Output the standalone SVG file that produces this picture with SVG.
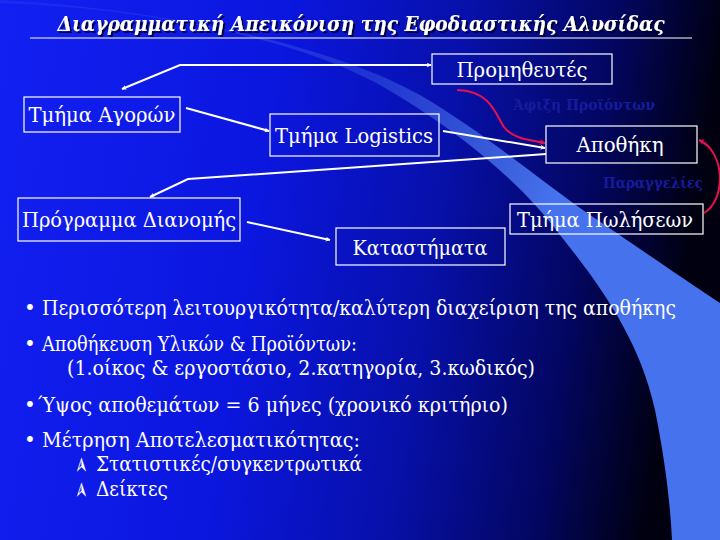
<svg xmlns="http://www.w3.org/2000/svg" width="720" height="540" viewBox="0 0 720 540">
<defs>
<linearGradient id="bg" x1="0" y1="0" x2="1" y2="0.12">
<stop offset="0" stop-color="#1220f2"/>
<stop offset="0.4" stop-color="#0b16de"/>
<stop offset="0.65" stop-color="#0710a8"/>
<stop offset="0.85" stop-color="#030660"/>
<stop offset="1" stop-color="#000010"/>
</linearGradient>
<linearGradient id="band" gradientUnits="userSpaceOnUse" x1="0" y1="0" x2="560" y2="260">
<stop offset="0" stop-color="#5a7cf5" stop-opacity="0.12"/>
<stop offset="0.6" stop-color="#4a72f0" stop-opacity="0.35"/>
<stop offset="0.95" stop-color="#4672ee" stop-opacity="1"/>
</linearGradient>
<marker id="aw" viewBox="0 0 10 10" refX="9" refY="5" markerWidth="5" markerHeight="5" orient="auto-start-reverse" markerUnits="userSpaceOnUse">
<path d="M0,0 L10,5 L0,10 L3,5 Z" fill="#ffffff"/>
</marker>
<marker id="ar" viewBox="0 0 10 10" refX="9" refY="5" markerWidth="6" markerHeight="6" orient="auto" markerUnits="userSpaceOnUse">
<path d="M0,0 L10,5 L0,10 L3,5 Z" fill="#e8104e"/>
</marker>
<filter id="sh" filterUnits="userSpaceOnUse" x="0" y="0" width="720" height="60">
<feDropShadow dx="2" dy="2" stdDeviation="0.6" flood-color="#000030" flood-opacity="0.9"/>
</filter>
</defs>
<style>
text{font-family:"DejaVu Serif","Liberation Serif",serif}
.box{fill:none;stroke:#ffffff;stroke-width:1.2}
.nt{font-size:21px;fill:#ffffff;text-anchor:middle}
.bt{font-size:20px;fill:#ffffff}
.hid{font-size:15px;font-weight:bold;fill:#161c9c}
.cw{fill:none;stroke:#ffffff;stroke-width:2}
.cr{fill:none;stroke:#e8104e;stroke-width:2}
text.ah{font-family:"DejaVu Sans",sans-serif;font-size:21px;fill:#ffffff}
</style>
<rect x="0" y="0" width="720" height="540" fill="url(#bg)"/>
<path d="M0,3 C150,8 300,40 380,85 C450,125 520,180 560,235 C600,285 640,340 655,410 C665,460 670,500 672,540 L720,540 L720,303 C670,270 620,235 590,215 C540,180 480,130 420,95 C330,45 170,10 0,0 Z" fill="url(#band)"/>
<g id="title" filter="url(#sh)">
<text x="361" y="31" font-size="20" font-style="italic" font-weight="bold" fill="#ffffff" text-anchor="middle" textLength="607" lengthAdjust="spacingAndGlyphs">Διαγραμματική Απεικόνιση της Εφοδιαστικής Αλυσίδας</text>
</g>
<line x1="30" y1="38" x2="692" y2="38" stroke="#ffffff" stroke-width="1"/>
<g id="connectors">
<polyline class="cw" points="122,89 180,65 431,65" marker-start="url(#aw)" marker-end="url(#aw)"/>
<line class="cw" x1="186" y1="108" x2="269" y2="131" marker-end="url(#aw)"/>
<line class="cw" x1="443" y1="131" x2="545" y2="148" marker-end="url(#aw)"/>
<polyline class="cw" points="546,154 188,179 150,197" marker-end="url(#aw)"/>
<line class="cw" x1="247" y1="222" x2="330" y2="240" marker-end="url(#aw)"/>
<path class="cr" d="M457,90 C492,91 496,116 504,127 C512,138 528,140 545,143" marker-end="url(#ar)"/>
<path class="cr" d="M704,213 C726,200 726,152 699,140" marker-end="url(#ar)"/>
<text class="hid" x="513" y="110" textLength="142" lengthAdjust="spacingAndGlyphs">Άφιξη Προϊόντων</text>
<text class="hid" x="603" y="188" textLength="100" lengthAdjust="spacingAndGlyphs">Παραγγελίες</text>
</g>
<g id="n-promitheutes">
<rect class="box" x="432" y="54" width="180" height="30"/>
<text class="nt" x="522" y="77" textLength="131" lengthAdjust="spacingAndGlyphs">Προμηθευτές</text>
</g>
<g id="n-agoron">
<rect class="box" x="24" y="97" width="156" height="35"/>
<text class="nt" x="102" y="122" textLength="147" lengthAdjust="spacingAndGlyphs">Τμήμα Αγορών</text>
</g>
<g id="n-logistics">
<rect class="box" x="270" y="114" width="169" height="42"/>
<text class="nt" x="354" y="143" textLength="158" lengthAdjust="spacingAndGlyphs">Τμήμα Logistics</text>
</g>
<g id="n-apothiki">
<rect class="box" x="546" y="126" width="151" height="37"/>
<text class="nt" x="620" y="152" textLength="87" lengthAdjust="spacingAndGlyphs">Αποθήκη</text>
</g>
<g id="n-programma">
<rect class="box" x="18" y="198" width="222" height="43"/>
<text class="nt" x="129" y="227" textLength="214" lengthAdjust="spacingAndGlyphs">Πρόγραμμα Διανομής</text>
</g>
<g id="n-polisewn">
<rect class="box" x="510" y="204" width="193" height="30"/>
<text class="nt" x="605" y="227" textLength="176" lengthAdjust="spacingAndGlyphs">Τμήμα Πωλήσεων</text>
</g>
<g id="n-katastimata">
<rect class="box" x="336" y="228" width="169" height="37"/>
<text class="nt" x="420" y="255" textLength="135" lengthAdjust="spacingAndGlyphs">Καταστήματα</text>
</g>
<g id="bullets">
<text class="bt" x="24" y="315">•</text>
<text class="bt" x="42" y="315" textLength="634" lengthAdjust="spacingAndGlyphs">Περισσότερη λειτουργικότητα/καλύτερη διαχείριση της αποθήκης</text>
<text class="bt" x="24" y="351">•</text>
<text class="bt" x="42" y="351" textLength="315" lengthAdjust="spacingAndGlyphs">Αποθήκευση Υλικών &amp; Προϊόντων:</text>
<text class="bt" x="67" y="375" textLength="468" lengthAdjust="spacingAndGlyphs">(1.οίκος &amp; εργοστάσιο, 2.κατηγορία, 3.κωδικός)</text>
<text class="bt" x="24" y="412">•</text>
<text class="bt" x="38" y="412" textLength="470" lengthAdjust="spacingAndGlyphs">Ύψος αποθεμάτων = 6 μήνες (χρονικό κριτήριο)</text>
<text class="bt" x="24" y="447">•</text>
<text class="bt" x="42" y="447" textLength="318" lengthAdjust="spacingAndGlyphs">Μέτρηση Αποτελεσματικότητας:</text>
<text class="ah" transform="translate(88,474) rotate(-90)">➢</text>
<text class="bt" x="96" y="471" textLength="266" lengthAdjust="spacingAndGlyphs">Στατιστικές/συγκεντρωτικά</text>
<text class="ah" transform="translate(88,499) rotate(-90)">➢</text>
<text class="bt" x="96" y="496" textLength="72" lengthAdjust="spacingAndGlyphs">Δείκτες</text>
</g>
</svg>
